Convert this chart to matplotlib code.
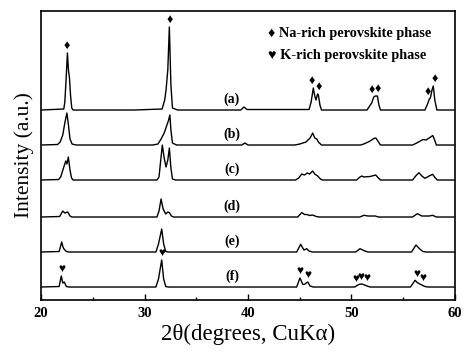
import numpy as np
import matplotlib
matplotlib.use('Agg')
import matplotlib.pyplot as plt

plt.rcParams['font.family'] = ['Liberation Serif', 'DejaVu Sans']

# XRD patterns, (2theta, relative intensity) breakpoints
pattern_a = [(20, 0), (22.2, 1), (22.3, 8), (22.42, 30), (22.55, 57), (22.65, 40), (22.75, 32), (22.85, 15),
             (22.97, 2), (23.1, 0),
             (29, 0), (31.7, 1), (31.95, 10), (32.08, 20), (32.25, 40), (32.4, 83), (32.55, 25), (32.7, 2),
             (33.2, 0), (39.3, 0), (39.6, 3), (39.9, 0.5), (45.9, 0.5), (46.1, 8), (46.31, 22), (46.45, 14),
             (46.57, 10), (46.72, 16), (46.8, 15), (46.95, 5), (47.1, 0), (51.5, 0), (51.75, 4), (51.95, 7),
             (52.15, 13), (52.3, 14), (52.5, 14), (52.65, 5), (52.8, 0), (57.1, 0), (57.35, 6), (57.52, 11),
             (57.62, 12), (57.78, 20), (57.9, 24), (58.05, 10), (58.25, 0), (60, 0)]
pattern_b = [(20, 0), (21.6, 0.5), (21.85, 3), (22.1, 10), (22.3, 22), (22.5, 32), (22.65, 20), (22.8, 6),
             (23.0, 1), (23.4, 0), (30.8, 0), (31.3, 1), (31.6, 6), (31.9, 12), (32.1, 18), (32.3, 24),
             (32.45, 30), (32.55, 15), (32.7, 2), (33.1, 0), (39.4, 0), (39.7, 2), (40.0, 0), (44.5, 0),
             (45.0, 1), (45.6, 3), (46.0, 7), (46.25, 12), (46.45, 7), (46.65, 6), (46.8, 3), (47.1, 0),
             (50.9, 0), (51.3, 1.5), (51.8, 4), (52.15, 6.5), (52.35, 7), (52.55, 4), (52.8, 0), (55.9, 0),
             (56.3, 2), (56.9, 5.5), (57.2, 5), (57.5, 7), (57.85, 9.5), (58.0, 6), (58.2, 0), (60, 0)]
pattern_c = [(20, 0), (21.7, 0.5), (21.9, 3), (22.05, 8), (22.2, 13), (22.39, 19), (22.5, 16), (22.64, 23),
             (22.8, 10), (22.95, 2), (23.1, 0), (31.2, 0), (31.4, 3), (31.55, 18), (31.72, 35), (31.9, 22),
             (32.08, 13), (32.25, 20), (32.4, 32), (32.55, 12), (32.7, 1), (33, 0), (44.6, 0), (44.9, 2),
             (45.19, 6), (45.45, 5), (45.73, 7), (45.95, 6), (46.25, 9), (46.45, 6), (46.73, 4), (47.0, 1),
             (47.2, 0), (50.5, 0), (50.75, 2.5), (50.98, 4), (51.2, 3), (51.46, 3.3), (51.8, 3.5), (52.34, 5),
             (52.6, 2), (52.8, 0), (55.9, 0), (56.2, 4), (56.52, 7.3), (56.8, 4), (57.1, 1.7), (57.5, 4),
             (57.84, 5.7), (58.1, 2), (58.3, 0), (60, 0)]
pattern_d = [(20, 0), (21.8, 0.5), (22.1, 6), (22.3, 4), (22.58, 5), (22.8, 1), (23.0, 0), (31.2, 0),
             (31.4, 6), (31.6, 18), (31.8, 8), (32.05, 3), (32.25, 5), (32.4, 4.5), (32.6, 1), (32.8, 0),
             (44.8, 0), (45.2, 4.5), (45.45, 2.5), (45.7, 2.5), (45.95, 1.5), (46.25, 2), (46.6, 0.5),
             (46.9, 0), (50.8, 0), (51.2, 1.7), (51.6, 1), (52.3, 1), (52.6, 0), (55.9, 0), (56.36, 3.3),
             (56.8, 1), (57.5, 1), (57.84, 1.7), (58.2, 0), (60, 0)]
pattern_e = [(20, 0), (21.75, 0.5), (22.0, 10), (22.12, 5), (22.22, 3), (22.45, 0.5), (22.7, 0), (31.1, 0),
             (31.35, 8), (31.66, 23), (31.85, 8), (32.05, 0.5), (32.3, 0), (44.7, 0), (45.09, 7.7),
             (45.4, 2), (45.67, 3.3), (45.9, 1), (46.2, 0), (50.4, 0), (50.82, 3.3), (51.3, 1), (51.6, 0),
             (55.8, 0), (56.23, 7), (56.6, 3), (56.9, 0.5), (57.2, 0), (60, 0)]
pattern_f = [(20, 0), (21.75, 0.5), (21.96, 11), (22.1, 4), (22.25, 5), (22.45, 0.5), (22.7, 0), (31.1, 0),
             (31.35, 8), (31.66, 27), (31.85, 8), (32.05, 0.5), (32.3, 0), (44.7, 0), (45.02, 9),
             (45.3, 2.5), (45.5, 3), (45.77, 5), (46.0, 1), (46.3, 0), (50.3, 0), (50.7, 2.5), (50.95, 3),
             (51.1, 2.7), (51.5, 1), (51.8, 0), (55.7, 0), (56.14, 6.7), (56.35, 4.5), (56.6, 3),
             (57.1, 0.5), (57.4, 0), (60, 0)]

patterns = [pattern_a, pattern_b, pattern_c, pattern_d, pattern_e, pattern_f]
labels = ['(a)', '(b)', '(c)', '(d)', '(e)', '(f)']
offsets = [190, 155, 120, 83, 48, 13]

# phase markers
na_peaks = [22.5, 32.4, 46.2, 46.8, 52.0, 52.5, 57.4, 58.0]   # on pattern (a)
k_peaks = [22.0, 31.66, 45.0, 45.8, 50.4, 50.92, 51.46, 56.3, 56.88]  # on pattern (f)


def curve_top(pat, x0, off):
    xs, ys = zip(*pat)
    grid = np.linspace(x0 - 0.15, x0 + 0.15, 31)
    return off + np.interp(grid, xs, ys).max()


fig = plt.figure(figsize=(4.63, 3.53), dpi=100)
ax = fig.add_axes([0.0886, 0.1501, 0.8941, 0.8187])

for pat, lab, off in zip(patterns, labels, offsets):
    xs, ys = zip(*pat)
    ax.plot(xs, np.array(ys) + off, color='black', lw=1.0)
    ax.text(38.45, off + 11, lab, ha='center', va='center', fontsize=10, fontweight='bold')

for x in na_peaks:
    ax.text(x, curve_top(pattern_a, x, offsets[0]) + 7, '\u2666', ha='center', va='center', fontsize=9)
for x in k_peaks:
    ax.text(x, curve_top(pattern_f, x, offsets[5]) + 7, '\u2665', ha='center', va='center', fontsize=8.5)

ax.text(41.9, 267, '\u2666 Na-rich perovskite phase', ha='left', va='center', fontsize=10.3, fontweight='bold')
ax.text(41.9, 245, '\u2665 K-rich perovskite phase', ha='left', va='center', fontsize=10.3, fontweight='bold')

ax.set_xlim(20, 60)
ax.set_ylim(0, 289)
ax.set_xticks([20, 30, 40, 50, 60])
ax.set_xticks([25, 35, 45, 55], minor=True)
ax.set_yticks([])
ax.tick_params(axis='x', which='major', direction='in', length=4, width=1, labelsize=10.5, pad=5)
ax.tick_params(axis='x', which='minor', direction='in', length=2.5, width=1)
for lbl in ax.get_xticklabels():
    lbl.set_fontweight('bold')
for sp in ax.spines.values():
    sp.set_linewidth(1.2)

ax.set_xlabel('2\u03b8(degrees, CuK\u03b1)', fontsize=16.5, labelpad=3)
ax.set_ylabel('Intensity (a.u.)', fontsize=15.5, labelpad=5)

fig.savefig('out.png', dpi=100)
